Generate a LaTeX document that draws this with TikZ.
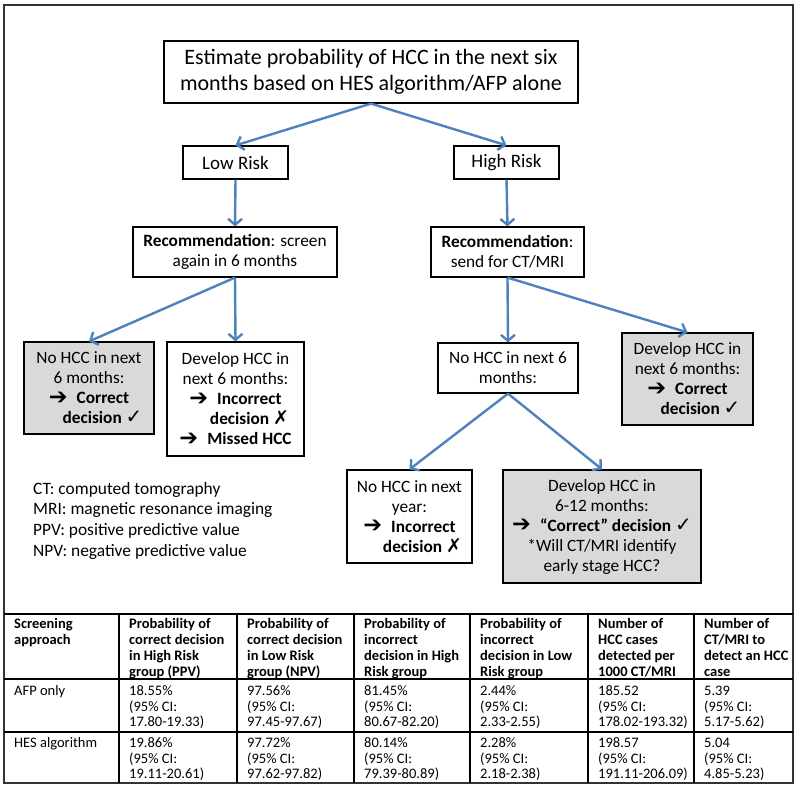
\documentclass[tikz,border=0pt]{standalone}
\usepackage{fontspec}
\usepackage{graphicx}
\setmainfont{Carlito}
\newfontfamily\symfont{DejaVu Sans}
\usetikzlibrary{arrows.meta}
\definecolor{arrowblue}{HTML}{4F81BD}
\definecolor{boxgray}{HTML}{D9D9D9}
\newcommand{\rarr}{\raisebox{-0.5pt}{\scalebox{1.3}{\symfont\bfseries ➔}}\hspace{9pt}}
\newcommand{\chk}{\scalebox{1.15}{\symfont\bfseries ✓}}
\newcommand{\crs}{\scalebox{1.1}{\symfont\bfseries ✗}}
\newcommand{\fst}{\rule{0pt}{11pt}}
\tikzset{
  box/.style={draw=black, line width=1.2pt, fill=white, align=center, inner sep=0pt, font=\fontsize{17.3}{20}\selectfont},
  graybox/.style={box, fill=boxgray},
  conn/.style={draw=arrowblue, line width=2.4pt, -{Straight Barb[length=6pt,width=14pt]}},
  cell/.style={anchor=north west, align=left, inner sep=0pt, font=\fontsize{14.5}{15.8}\selectfont},
  hcell/.style={cell, font=\fontsize{14.5}{16}\selectfont\bfseries},
  grid/.style={line width=1.3pt, draw=black}
}
\begin{document}
\begin{tikzpicture}[x=1pt, y=-1pt]
\useasboundingbox (0,0) rectangle (800,787);
\fill[white] (0,0) rectangle (800,787);
% outer frame
\draw[line width=1.3pt, draw=black!80] (4,5) rectangle (793,783);

% flowchart nodes
\node[box, minimum width=414pt, minimum height=62pt, font=\fontsize{22}{26}\selectfont] (title) at (371,72) {Estimate probability of HCC in the next six\\months based on HES algorithm/AFP alone};
\node[box, minimum width=105pt, minimum height=33pt, font=\fontsize{19}{20}\selectfont] (low) at (235.5,162.5) {Low Risk};
\node[box, minimum width=105pt, minimum height=33pt, font=\fontsize{19}{20}\selectfont] (high) at (506.5,162.5) {High Risk};
\node[box, minimum width=204pt, minimum height=50pt] (recl) at (235,252) {\textbf{Recommendation}: screen\\again in 6 months};
\node[box, minimum width=153pt, minimum height=50pt] (recr) at (507.5,252) {\textbf{Recommendation}:\\send for CT/MRI};
\node[graybox, minimum width=130pt, minimum height=92pt] (nol) at (89,388) {No HCC in next\\6 months:\\\textbf{\rarr Correct}\\\hspace*{27pt}\textbf{decision \chk}};
\node[box, minimum width=137pt, minimum height=114pt] (devl) at (235.5,399) {Develop HCC in\\next 6 months:\\\textbf{\rarr Incorrect}\\\hspace*{28pt}\textbf{decision \crs}\\\textbf{\rarr Missed HCC}};
\node[box, minimum width=140pt, minimum height=50pt] (nor) at (508,368) {No HCC in next 6\\months:};
\node[graybox, minimum width=131pt, minimum height=92pt] (devr) at (687.5,379) {Develop HCC in\\next 6 months:\\\textbf{\rarr Correct}\\\hspace*{26pt}\textbf{decision \chk}};
\node[box, minimum width=125pt, minimum height=93pt] (noyear) at (409.5,516.5) {No HCC in next\\year:\\\textbf{\rarr Incorrect}\\\hspace*{26pt}\textbf{decision \crs}};
\node[graybox, minimum width=198pt, minimum height=113pt] (dev612) at (602,526.5) {Develop HCC in\\6-12 months:\\\textbf{\rarr “Correct” decision \chk}\\*Will CT/MRI identify\\early stage HCC?};

% connectors
\draw[conn] (title.south) -- (low.north);
\draw[conn] (title.south) -- (high.north);
\draw[conn] (low.south) -- (recl.north);
\draw[conn] (high.south) -- (recr.north);
\draw[conn] (recl.south) -- (nol.north);
\draw[conn] (recl.south) -- (devl.north);
\draw[conn] (recr.south) -- (nor.north);
\draw[conn] (recr.south) -- (devr.north);
\draw[conn] (nor.south) -- (noyear.north);
\draw[conn] (nor.south) -- (dev612.north);

% legend
\node[anchor=north west, align=left, inner sep=0pt, font=\fontsize{17.4}{20.7}\selectfont] (legend) at (33,481) {\rule{0pt}{13pt}CT: computed tomography\\MRI: magnetic resonance imaging\\PPV: positive predictive value\\NPV: negative predictive value};

% table grid
\draw[grid] (4,614) -- (793,614);
\draw[grid] (4,679) -- (793,679);
\draw[grid] (4,732) -- (793,732);
\foreach \cx in {119,237,354,470,588,694} \draw[grid] (\cx,614) -- (\cx,783);

% header
\node[hcell] (h1) at (14,617) {\fst Screening\\approach};
\node[hcell] (h2) at (129,617) {\fst Probability of\\correct decision\\in High Risk\\group (PPV)};
\node[hcell] (h3) at (247,617) {\fst Probability of\\correct decision\\in Low Risk\\group (NPV)};
\node[hcell] (h4) at (364,617) {\fst Probability of\\incorrect\\decision in High\\Risk group};
\node[hcell] (h5) at (480,617) {\fst Probability of\\incorrect\\decision in Low\\Risk group};
\node[hcell] (h6) at (598,617) {\fst Number of\\HCC cases\\detected per\\1000 CT/MRI};
\node[hcell] (h7) at (704,617) {\fst Number of\\CT/MRI to\\detect an HCC\\case};
% row AFP
\node[cell] (a1) at (14,684) {\fst AFP only};
\node[cell] (a2) at (129,684) {\fst 18.55\%\\(95\% CI:\\17.80-19.33)};
\node[cell] (a3) at (247,684) {\fst 97.56\%\\(95\% CI:\\97.45-97.67)};
\node[cell] (a4) at (364,684) {\fst 81.45\%\\(95\% CI:\\80.67-82.20)};
\node[cell] (a5) at (480,684) {\fst 2.44\%\\(95\% CI:\\2.33-2.55)};
\node[cell] (a6) at (598,684) {\fst 185.52\\(95\% CI:\\178.02-193.32)};
\node[cell] (a7) at (704,684) {\fst 5.39\\(95\% CI:\\5.17-5.62)};
% row HES
\node[cell] (b1) at (14,736) {\fst HES algorithm};
\node[cell] (b2) at (129,736) {\fst 19.86\%\\(95\% CI:\\19.11-20.61)};
\node[cell] (b3) at (247,736) {\fst 97.72\%\\(95\% CI:\\97.62-97.82)};
\node[cell] (b4) at (364,736) {\fst 80.14\%\\(95\% CI:\\79.39-80.89)};
\node[cell] (b5) at (480,736) {\fst 2.28\%\\(95\% CI:\\2.18-2.38)};
\node[cell] (b6) at (598,736) {\fst 198.57\\(95\% CI:\\191.11-206.09)};
\node[cell] (b7) at (704,736) {\fst 5.04\\(95\% CI:\\4.85-5.23)};
\end{tikzpicture}
\end{document}
